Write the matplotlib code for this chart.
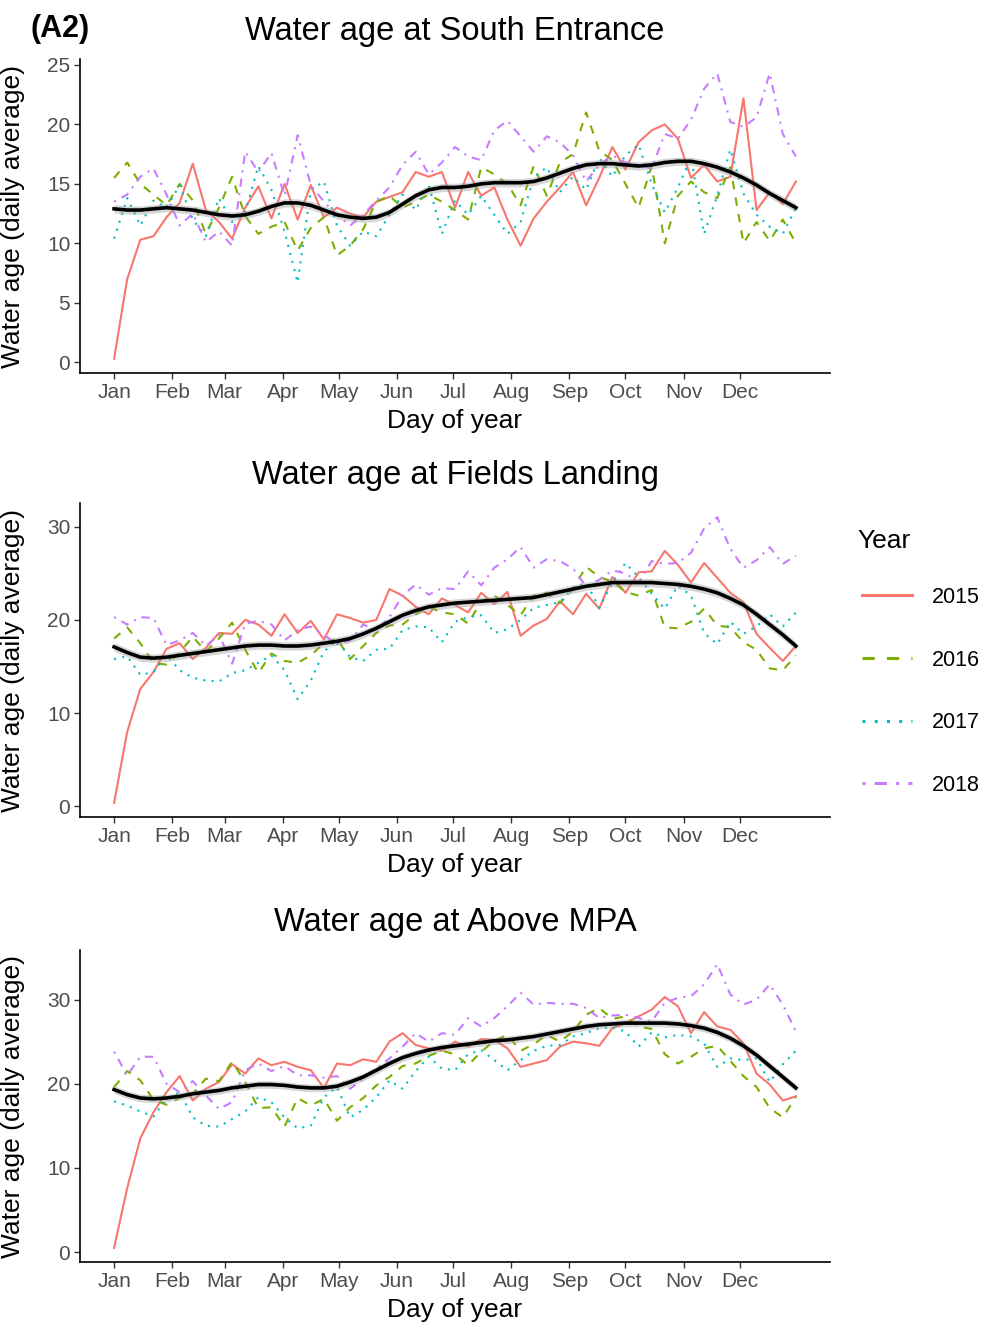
import numpy as np
import matplotlib
matplotlib.use('Agg')
import matplotlib.pyplot as plt
from matplotlib.lines import Line2D

plt.rcParams['font.family'] = ['Liberation Sans', 'DejaVu Sans']

# day-of-year sampling (weekly)
DAYS = np.arange(1, 366, 7)

MONTH_DAYS = [1, 32, 60, 91, 121, 152, 182, 213, 244, 274, 305, 335]
MONTH_LABELS = ["Jan", "Feb", "Mar", "Apr", "May", "Jun",
                "Jul", "Aug", "Sep", "Oct", "Nov", "Dec"]
YEARS = ["2015", "2016", "2017", "2018"]

# ---- South Entrance ----
SE_2015 = [0.3, 7.0, 10.3, 10.6, 12.2, 13.4, 16.7, 12.8, 11.8, 10.4, 13.0, 14.8, 12.1, 15.0,
           12.0, 14.9, 12.2, 13.0, 12.5, 12.2, 13.5, 13.9, 14.3, 16.0, 15.6, 16.0, 13.0, 16.0,
           14.0, 14.7, 12.0, 9.8, 12.1, 13.5, 14.7, 16.0, 13.2, 15.5, 18.1, 16.2, 18.5, 19.5,
           20.0, 18.8, 15.5, 16.6, 15.2, 15.6, 22.2, 12.8, 14.3, 13.3, 15.2]
SE_2016 = [15.5, 16.8, 15.0, 14.1, 13.2, 15.0, 13.6, 10.8, 13.0, 15.6, 12.3, 10.8, 11.4, 11.8,
           9.4, 11.3, 12.2, 9.0, 9.8, 11.2, 13.5, 14.0, 13.0, 13.5, 14.1, 13.5, 12.8, 12.0,
           16.4, 15.8, 15.0, 13.2, 16.5, 14.0, 16.8, 17.5, 21.0, 17.8, 17.0, 15.0, 13.0, 16.5,
           10.0, 14.0, 15.2, 14.3, 13.8, 16.4, 10.0, 11.8, 10.2, 12.0, 10.0]
SE_2017 = [10.4, 13.8, 11.5, 13.6, 13.0, 14.9, 12.0, 10.6, 13.8, 11.8, 12.6, 16.5, 14.5, 11.0,
           6.7, 14.5, 15.2, 11.5, 9.8, 11.0, 10.6, 12.4, 14.1, 12.8, 14.9, 10.8, 13.6, 12.4,
           14.0, 12.4, 10.8, 11.8, 15.5, 16.4, 14.3, 15.6, 14.5, 17.2, 15.6, 17.4, 18.3, 15.0,
           12.6, 14.7, 17.2, 10.8, 14.0, 17.9, 14.2, 12.4, 11.4, 10.8, 13.0]
SE_2018 = [13.5, 14.1, 15.6, 16.3, 14.1, 11.5, 12.5, 10.1, 11.0, 9.8, 17.7, 16.0, 17.6, 14.0,
           19.1, 14.9, 13.5, 12.4, 11.5, 12.4, 13.6, 14.7, 16.6, 17.7, 15.8, 16.8, 18.1, 17.3,
           17.0, 19.5, 20.3, 19.0, 17.7, 19.0, 18.5, 17.4, 15.2, 16.6, 17.4, 16.8, 16.6, 16.3,
           19.2, 18.8, 20.4, 23.0, 24.3, 20.2, 19.8, 20.6, 24.3, 19.2, 17.3]
SE_SMOOTH = [12.9, 12.8, 12.8, 12.9, 13.0, 12.9, 12.8, 12.6, 12.4, 12.3, 12.4, 12.7, 13.1, 13.4,
             13.4, 13.2, 12.8, 12.4, 12.2, 12.1, 12.2, 12.6, 13.3, 14.0, 14.5, 14.7, 14.7, 14.8,
             15.0, 15.1, 15.1, 15.1, 15.2, 15.5, 15.9, 16.3, 16.6, 16.7, 16.7, 16.6, 16.5, 16.6,
             16.8, 16.9, 16.9, 16.7, 16.4, 16.0, 15.5, 14.9, 14.2, 13.6, 13.0]

# ---- Fields Landing ----
FL_2015 = [0.4, 8.0, 12.6, 14.4, 16.9, 17.5, 15.8, 17.0, 18.6, 18.5, 20.0, 19.5, 18.3, 20.6,
           18.6, 19.9, 17.9, 20.6, 20.2, 19.7, 20.0, 23.3, 22.6, 21.4, 20.6, 22.3, 21.6, 20.8,
           22.9, 21.7, 23.0, 18.3, 19.4, 20.1, 22.0, 20.6, 22.8, 21.2, 24.6, 22.9, 25.1, 25.2,
           27.4, 25.9, 24.0, 26.1, 24.5, 22.9, 21.9, 18.5, 17.0, 15.6, 17.2]
FL_2016 = [18.0, 19.2, 17.5, 15.4, 15.2, 16.5, 18.2, 16.6, 18.0, 19.7, 16.8, 14.3, 16.4, 15.6,
           15.4, 16.2, 17.5, 18.0, 15.8, 17.2, 18.6, 19.4, 19.5, 20.6, 21.4, 20.8, 20.6, 19.6,
           22.0, 22.6, 21.6, 20.5, 22.6, 22.9, 21.8, 23.3, 25.7, 24.6, 24.1, 23.0, 22.6, 23.2,
           19.2, 19.1, 19.8, 21.2, 19.4, 19.2, 17.6, 16.8, 14.8, 14.6, 16.2]
FL_2017 = [15.8, 16.1, 14.1, 14.4, 16.2, 14.6, 13.8, 13.5, 13.4, 14.3, 14.6, 15.4, 16.2, 14.6,
           11.5, 13.5, 16.6, 17.8, 16.0, 15.6, 16.8, 16.9, 18.9, 19.3, 19.2, 17.6, 19.8, 20.3,
           20.5, 18.6, 19.0, 20.0, 21.3, 21.6, 21.9, 23.4, 24.0, 21.3, 24.0, 26.1, 24.6, 22.8,
           21.2, 23.7, 22.6, 18.6, 17.4, 19.8, 18.5, 19.3, 20.6, 19.3, 20.8]
FL_2018 = [20.3, 19.5, 20.3, 20.2, 17.3, 17.8, 18.6, 17.2, 18.4, 15.3, 19.6, 19.9, 19.5, 17.8,
           18.9, 19.3, 18.4, 17.4, 17.8, 19.5, 18.9, 20.3, 22.6, 23.8, 22.7, 23.4, 23.3, 25.2,
           23.7, 25.6, 26.5, 27.8, 25.6, 26.5, 26.3, 25.5, 23.6, 24.3, 25.3, 25.0, 24.0, 26.3,
           26.0, 26.1, 27.2, 29.8, 31.0, 27.6, 25.6, 26.4, 27.8, 26.0, 26.9]
FL_SMOOTH = [17.1, 16.5, 16.0, 15.9, 16.0, 16.2, 16.4, 16.6, 16.8, 17.0, 17.2, 17.3, 17.3, 17.2,
             17.2, 17.3, 17.5, 17.7, 18.0, 18.5, 19.1, 19.8, 20.5, 21.0, 21.4, 21.6, 21.8, 21.9,
             22.0, 22.1, 22.2, 22.3, 22.4, 22.7, 23.0, 23.3, 23.6, 23.8, 24.0, 24.0, 24.0, 24.0,
             23.9, 23.8, 23.6, 23.3, 22.9, 22.3, 21.6, 20.6, 19.5, 18.4, 17.2]

# ---- Above MPA ----
AM_2015 = [0.5, 7.6, 13.5, 16.6, 19.0, 20.9, 18.0, 19.4, 20.2, 22.3, 21.2, 23.0, 22.2, 22.6,
           22.0, 21.6, 19.5, 22.4, 22.2, 22.9, 22.6, 25.0, 26.0, 24.6, 24.2, 23.9, 25.0, 24.4,
           25.3, 25.2, 24.2, 22.0, 22.4, 22.8, 24.4, 25.0, 24.8, 24.5, 26.6, 27.2, 28.0, 28.8,
           30.3, 29.2, 26.0, 28.5, 26.8, 26.4, 24.8, 21.2, 19.9, 18.0, 18.5]
AM_2016 = [19.6, 21.5, 20.4, 18.1, 17.5, 18.3, 18.8, 20.6, 20.3, 22.6, 20.2, 17.1, 17.2, 14.9,
           18.3, 17.4, 18.2, 15.6, 17.2, 18.3, 19.8, 20.8, 22.1, 22.4, 23.3, 23.9, 23.5, 22.2,
           23.8, 25.1, 25.8, 23.9, 24.7, 25.8, 25.0, 26.2, 28.2, 29.0, 27.7, 28.0, 26.8, 26.5,
           23.5, 22.4, 23.2, 24.2, 24.5, 22.7, 20.9, 19.6, 17.1, 16.0, 18.4]
AM_2017 = [17.9, 17.4, 16.7, 16.1, 18.2, 19.0, 16.0, 15.0, 14.9, 15.8, 16.7, 18.4, 17.8, 16.0,
           14.7, 15.0, 18.4, 19.6, 16.0, 16.9, 18.4, 20.4, 19.4, 21.5, 23.2, 21.8, 21.6, 23.5,
           24.0, 22.8, 21.6, 22.8, 23.9, 24.5, 24.6, 25.6, 26.0, 26.6, 26.7, 26.2, 24.4, 26.1,
           25.5, 25.8, 25.6, 24.8, 22.0, 23.0, 22.8, 23.0, 20.2, 22.3, 23.9]
AM_2018 = [23.8, 21.0, 23.2, 23.2, 20.0, 19.0, 20.3, 18.6, 17.0, 17.8, 21.6, 22.4, 21.5, 22.1,
           21.0, 21.0, 20.7, 20.9, 19.4, 20.6, 21.8, 23.0, 24.4, 26.0, 25.0, 26.0, 25.8, 27.8,
           26.8, 27.8, 29.2, 30.8, 29.4, 29.6, 29.5, 29.5, 29.0, 27.8, 28.1, 28.2, 27.8, 27.4,
           29.6, 30.2, 30.4, 31.8, 34.2, 30.6, 29.4, 30.0, 31.8, 29.4, 26.2]
AM_SMOOTH = [19.3, 18.7, 18.3, 18.2, 18.3, 18.5, 18.8, 19.0, 19.2, 19.5, 19.7, 19.9, 19.9, 19.8,
             19.6, 19.5, 19.5, 19.7, 20.2, 20.8, 21.6, 22.4, 23.1, 23.6, 24.0, 24.3, 24.5, 24.7,
             24.9, 25.1, 25.2, 25.4, 25.6, 25.9, 26.2, 26.5, 26.8, 27.0, 27.1, 27.2, 27.2, 27.2,
             27.2, 27.1, 26.9, 26.6, 26.1, 25.4, 24.5, 23.4, 22.1, 20.8, 19.5]

# half-width of the smoother's confidence band
SE_BAND = 0.35
FL_BAND = 0.45
AM_BAND = 0.45

SITES = [
    ("South Entrance", [SE_2015, SE_2016, SE_2017, SE_2018], SE_SMOOTH, SE_BAND, [0, 5, 10, 15, 20, 25]),
    ("Fields Landing", [FL_2015, FL_2016, FL_2017, FL_2018], FL_SMOOTH, FL_BAND, [0, 10, 20, 30]),
    ("Above MPA", [AM_2015, AM_2016, AM_2017, AM_2018], AM_SMOOTH, AM_BAND, [0, 10, 20, 30]),
]

COLORS = ["#F8766D", "#7CAE00", "#00BFC4", "#C77CFF"]
DASHES = [None, (4, 4), (1, 3), (1, 3, 4, 3)]

W, H = 985, 1328
fig = plt.figure(figsize=(W / 100, H / 100), dpi=100)

# panel boxes in pixels: left, top, right, bottom
BOXES = [(80, 59, 830, 373), (80, 503, 830, 817), (80, 950, 830, 1262)]

axes = []
for (site, series, smooth, band, yticks), (l, t, r, b) in zip(SITES, BOXES):
    ax = fig.add_axes([l / W, 1 - b / H, (r - l) / W, (b - t) / H])
    axes.append(ax)
    smooth = np.array(smooth)
    ax.fill_between(DAYS, smooth - band, smooth + band, color="#999999", alpha=0.4,
                    linewidth=0, zorder=4)
    for vals, col, dash, yr in zip(series, COLORS, DASHES, YEARS):
        ln, = ax.plot(DAYS, vals, color=col, linewidth=1.5, label=yr, zorder=3)
        if dash is not None:
            ln.set_dashes(dash)
    ax.plot(DAYS, smooth, color="black", linewidth=2.6, zorder=5)

    allv = np.concatenate([np.array(s) for s in series])
    lo, hi = allv.min(), allv.max()
    pad = 0.05 * (hi - lo)
    ax.set_ylim(lo - pad, hi + pad)
    xpad = 0.05 * (DAYS[-1] - DAYS[0])
    ax.set_xlim(DAYS[0] - xpad, DAYS[-1] + xpad)

    ax.set_xticks(MONTH_DAYS)
    ax.set_xticklabels(MONTH_LABELS)
    ax.set_yticks(yticks)
    ax.tick_params(axis='both', labelsize=15, labelcolor="#4D4D4D", color="#333333",
                   length=4, width=1.0, pad=3)
    for s in ['top', 'right']:
        ax.spines[s].set_visible(False)
    for s in ['left', 'bottom']:
        ax.spines[s].set_linewidth(1.2)
    ax.set_xlabel("Day of year", fontsize=19)
    ax.set_ylabel("Water age (daily average)", fontsize=19)
    ax.xaxis.set_label_coords(0.5, -0.115)
    ax.yaxis.set_label_coords(-0.073, 0.5)
    ax.set_title(f"Water age at {site}", fontsize=23.5, pad=14)

fig.text(30 / W, 1 - 37 / H, "(A2)", fontsize=22, fontweight="bold", va="baseline")

# legend: title drawn as its own text, entries in a frameless legend below it
fig.text(857 / W, 1 - 541 / H, "Year", fontsize=19, va="center", ha="left")
handles = []
for col, dash, yr in zip(COLORS, DASHES, YEARS):
    h = Line2D([], [], color=col, linewidth=2.2, label=yr)
    if dash is not None:
        h.set_dashes(dash)
    handles.append(h)
leg = fig.legend(handles=handles, loc="upper left",
                 bbox_to_anchor=(862 / W, 1 - 587 / H), frameon=False, fontsize=15.5,
                 handlelength=2.3, handletextpad=0.95,
                 labelspacing=1.93, borderpad=0, borderaxespad=0)

fig.savefig("out.png", dpi=100)
